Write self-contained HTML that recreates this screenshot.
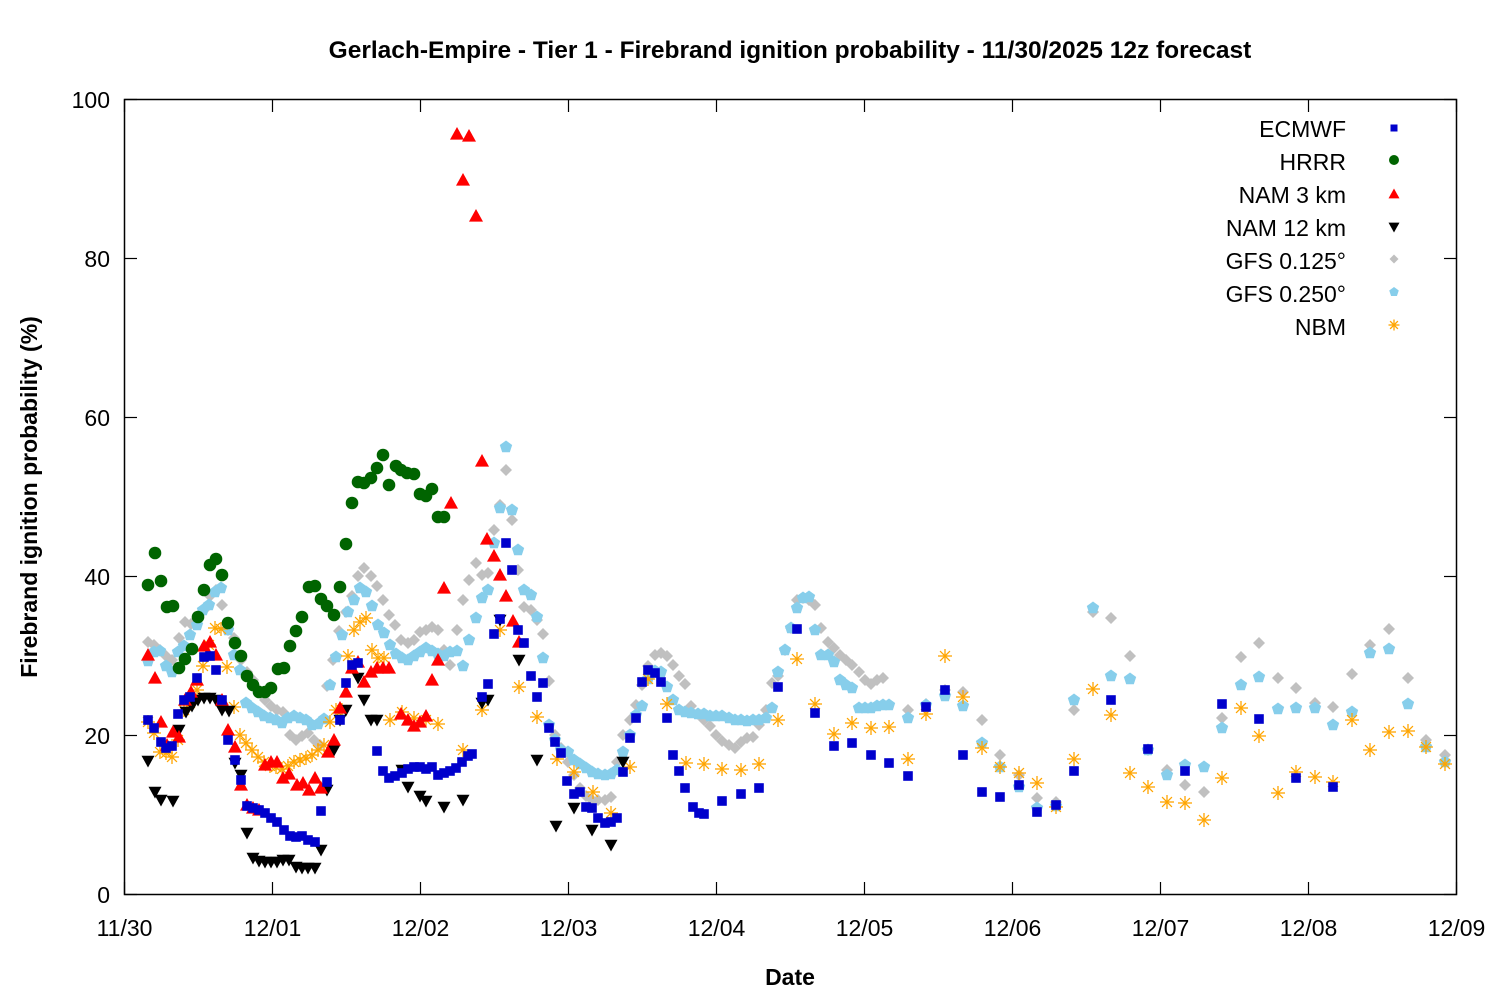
<!DOCTYPE html>
<html><head><meta charset="utf-8"><style>
body{margin:0;background:#fff}
svg text{font-family:"Liberation Sans","DejaVu Sans",sans-serif;fill:#000}
</style></head><body>
<svg id="s" width="1500" height="1000" xmlns="http://www.w3.org/2000/svg">
<rect width="1500" height="1000" fill="#fff"/>
<g id="data"></g>
<rect x="124.5" y="99.5" width="1332" height="795" fill="none" stroke="#000" stroke-width="1.5"/>
<g id="ticks" stroke="#000" stroke-width="1.2"></g>
<g font-size="23" text-anchor="end">
<text x="110" y="903">0</text><text x="110" y="744">20</text><text x="110" y="585">40</text>
<text x="110" y="426">60</text><text x="110" y="267">80</text><text x="110" y="108">100</text>
</g>
<g font-size="23" text-anchor="middle" id="xl"></g>
<text x="790" y="58" font-size="24.5" font-weight="bold" text-anchor="middle">Gerlach-Empire - Tier 1 - Firebrand ignition probability - 11/30/2025 12z forecast</text>
<text x="790" y="985" font-size="23" font-weight="bold" text-anchor="middle">Date</text>
<text transform="translate(37,497) rotate(-90)" font-size="23" font-weight="bold" text-anchor="middle">Firebrand ignition probability (%)</text>
<g font-size="23" text-anchor="end">
<text x="1346" y="137">ECMWF</text><text x="1346" y="170">HRRR</text><text x="1346" y="203">NAM 3 km</text>
<text x="1346" y="236">NAM 12 km</text><text x="1346" y="269">GFS 0.125°</text><text x="1346" y="302">GFS 0.250°</text>
<text x="1346" y="335">NBM</text>
</g>
<g id="leg"></g>
</svg>
<script>
var NS="http://www.w3.org/2000/svg";
function el(p,t,a){var e=document.createElementNS(NS,t);for(var k in a)e.setAttribute(k,a[k]);p.appendChild(e);return e;}
var tk=document.getElementById('ticks'),xl=document.getElementById('xl');
var labs=["11/30","12/01","12/02","12/03","12/04","12/05","12/06","12/07","12/08","12/09"];
for(var i=0;i<10;i++){var x=124.5+148*i;
 el(tk,'line',{x1:x,y1:894.5,x2:x,y2:882});el(tk,'line',{x1:x,y1:99.5,x2:x,y2:112});
 var t=el(xl,'text',{x:x,y:936});t.textContent=labs[i];}
for(var j=0;j<=5;j++){var y=894.5-159*j;
 el(tk,'line',{x1:124.5,y1:y,x2:137,y2:y});el(tk,'line',{x1:1456.5,y1:y,x2:1444,y2:y});}
function mk(g,type,x,y,s){
 if(type=='sq')el(g,'rect',{x:x-s,y:y-s,width:2*s,height:2*s,fill:'#0000cc'});
 else if(type=='ci')el(g,'circle',{cx:x,cy:y,r:s,fill:'#006400'});
 else if(type=='tu')el(g,'polygon',{points:(x-s)+','+(y+s*0.8)+' '+(x+s)+','+(y+s*0.8)+' '+x+','+(y-s),fill:'#ff0000'});
 else if(type=='td')el(g,'polygon',{points:(x-s)+','+(y-s*0.8)+' '+(x+s)+','+(y-s*0.8)+' '+x+','+(y+s),fill:'#000'});
 else if(type=='di')el(g,'polygon',{points:x+','+(y-s)+' '+(x+s)+','+y+' '+x+','+(y+s)+' '+(x-s)+','+y,fill:'#c0c0c0'});
 else if(type=='pe'){var p=[];for(var k=0;k<5;k++){var a=-Math.PI/2+k*2*Math.PI/5;p.push((x+s*Math.cos(a))+','+(y+s*Math.sin(a)));}el(g,'polygon',{points:p.join(' '),fill:'#87ceeb'});}
 else if(type=='as'){for(var k=0;k<4;k++){var a=k*Math.PI/4;el(g,'line',{x1:x-s*Math.cos(a),y1:y-s*Math.sin(a),x2:x+s*Math.cos(a),y2:y+s*Math.sin(a),stroke:'#ffa500','stroke-width':1.3});}}
}
var D={};
D.di=[148,642,154,645,160,650,166,656,172,660,179,638,185,622,191,624,197,620,204,610,210,596,216,590,222,605,228,630,234,638,241,660,247,672,253,680,259,690,265,700,271,706,277,710,283,712,290,735,296,740,302,736,308,733,314,740,320,745,327,686,333,660,339,631,346,612,352,596,358,576,364,568,371,576,377,586,383,600,389,615,395,625,401,640,408,643,414,640,420,632,426,630,432,627,438,630,444,650,450,665,457,630,463,600,469,580,476,563,482,575,488,573,494,530,500,505,506,470,512,520,518,570,524,607,531,610,537,620,543,634,549,681,555,735,561,748,568,762,574,775,580,788,586,796,592,800,598,800,605,800,611,797,617,762,623,735,630,720,636,705,642,685,648,666,655,655,661,653,667,656,673,665,679,676,685,684,691,706,698,714,704,720,710,726,716,735,722,741,729,745,735,748,741,742,747,738,753,737,759,725,766,710,772,683,778,676,785,650,791,628,797,600,803,598,809,600,815,605,821,628,828,642,834,648,840,655,846,660,852,665,859,672,865,680,871,684,877,680,883,678,908,710,926,704,945,690,963,692,982,720,1000,755,1019,775,1037,798,1056,802,1074,710,1093,612,1111,618,1130,656,1148,750,1167,770,1185,785,1204,792,1222,718,1241,657,1259,643,1278,678,1296,688,1315,703,1333,707,1352,674,1370,645,1389,629,1408,678,1426,740,1445,755];
D.pe=[148,661,154,652,160,651,166,666,172,672,178,652,184,646,190,635,197,625,203,610,209,605,215,592,221,588,228,630,234,655,240,670,246,703,252,708,258,712,264,716,270,718,276,720,282,723,288,718,294,716,300,718,306,720,312,725,318,724,324,719,330,685,336,657,342,635,348,612,354,600,360,588,366,592,372,606,378,625,384,633,390,645,396,654,402,658,408,660,414,656,420,652,426,648,432,651,438,654,444,656,450,652,457,651,463,666,469,640,476,618,482,598,488,590,494,543,500,508,506,447,512,510,518,550,524,590,531,595,537,617,543,658,549,725,555,740,561,750,568,752,574,760,580,764,586,768,592,772,598,774,605,775,611,774,617,770,623,752,630,735,636,715,642,706,648,679,655,671,661,672,667,687,673,700,679,710,685,712,691,713,698,714,704,714,710,716,716,716,722,716,729,718,735,720,741,720,747,721,753,720,759,720,766,718,772,708,778,672,785,650,791,628,797,608,803,598,809,597,815,630,821,655,828,655,834,662,840,680,846,685,852,688,859,708,865,708,871,708,877,706,883,705,889,705,908,718,926,705,945,696,963,706,982,743,1000,767,1019,787,1037,808,1056,806,1074,700,1093,608,1111,676,1130,679,1148,750,1167,775,1185,765,1204,767,1222,728,1241,685,1259,677,1278,709,1296,708,1315,708,1333,725,1352,712,1370,653,1389,649,1408,704,1426,747,1445,762];
D.as=[148,722,154,733,160,752,166,753,172,757,178,740,184,710,190,703,197,690,203,666,209,645,215,628,221,629,227,667,234,707,240,735,246,743,252,750,258,757,264,762,270,766,276,767,282,769,288,766,294,762,300,760,306,758,312,755,318,750,324,745,330,722,336,710,342,710,348,656,354,630,360,622,366,618,372,650,378,658,384,658,390,720,402,712,414,718,426,720,438,724,463,750,482,710,500,630,519,687,537,717,557,759,574,772,593,792,611,813,630,767,648,679,667,704,686,763,704,764,722,769,741,770,759,764,778,720,797,659,815,704,834,734,852,723,871,728,889,727,908,759,926,714,945,656,963,697,982,748,1000,767,1019,773,1037,783,1056,807,1074,759,1093,689,1111,715,1130,773,1148,787,1167,802,1185,803,1204,820,1222,778,1241,708,1259,736,1278,793,1296,772,1315,777,1333,782,1352,720,1370,750,1389,732,1408,731,1426,747,1445,764];
D.td=[148,761,155,792,161,800,173,801,179,730,186,712,192,706,198,700,204,698,210,698,216,700,222,710,229,711,235,763,241,775,247,833,253,858,259,861,265,862,271,862,277,862,283,860,289,860,296,867,302,868,308,868,315,868,321,850,327,790,334,750,340,720,346,710,358,678,364,700,371,720,377,720,402,770,408,787,420,796,426,801,444,807,463,800,482,703,488,700,500,620,519,660,537,760,556,826,574,808,592,830,611,845,623,762];
D.tu=[148,655,155,678,161,722,167,745,173,732,179,737,185,700,191,692,197,680,204,646,210,642,216,655,222,700,228,730,235,747,241,785,247,805,253,808,259,810,265,765,271,762,277,762,283,778,289,774,297,785,303,783,309,790,315,778,321,788,328,752,334,740,340,708,346,692,352,668,358,662,364,682,371,672,377,668,383,668,389,668,401,714,408,720,414,726,420,722,426,716,432,680,438,660,444,588,451,503,457,134,463,180,469,136,476,216,482,461,487,539,494,556,500,575,506,596,513,621,519,642];
D.ci=[148,585,155,553,161,581,167,607,173,606,179,668,185,659,192,649,198,617,204,590,210,565,216,559,222,575,228,623,235,643,241,656,247,676,253,685,259,692,265,692,271,688,278,669,284,668,290,646,296,631,302,617,309,587,315,586,321,599,327,606,334,615,340,587,346,544,352,503,358,482,364,483,371,478,377,468,383,455,389,485,396,466,401,470,407,473,414,474,420,494,426,496,432,489,438,517,444,517];
D.sq=[148,720,154,728,161,742,166,748,172,746,178,714,184,700,190,697,197,678,204,657,210,656,216,670,222,700,228,740,235,760,241,780,247,806,253,808,259,810,265,813,271,818,277,822,284,830,290,836,296,837,302,836,308,840,315,842,321,811,327,782,340,720,346,683,352,665,358,663,377,751,383,771,389,778,395,776,402,773,408,769,414,767,420,767,426,769,432,767,438,775,444,773,450,771,456,768,462,762,468,756,472,754,482,697,488,684,494,634,500,619,506,543,512,570,518,630,524,643,531,676,537,697,543,683,549,728,555,742,561,753,567,781,574,794,580,792,586,807,592,808,598,818,605,823,611,822,617,818,623,772,630,738,636,718,642,682,648,670,655,673,661,682,667,718,673,755,679,771,685,788,693,807,699,813,704,814,722,801,741,794,759,788,778,687,797,629,815,713,834,746,852,743,871,755,889,763,908,776,926,707,945,690,963,755,982,792,1000,797,1019,785,1037,812,1056,805,1074,771,1111,700,1148,749,1185,771,1222,704,1259,719,1296,778,1333,787];
var g=document.getElementById('data');
var sz={di:6,pe:6.5,as:7,td:6.5,tu:7,ci:6.3,sq:4.8};
['di','pe','as','td','tu','ci','sq'].forEach(function(k){var a=D[k];for(var i=0;i<a.length;i+=2)mk(g,k,a[i],a[i+1],sz[k]);});
var L=document.getElementById('leg');
[['sq',128,3.5],['ci',160,5],['tu',194,5.5],['td',227,5.5],['di',259,4.5],['pe',292,5],['as',325,5.5]].forEach(function(r){mk(L,r[0],1394,r[1],r[2]);});
</script>
</body></html>
